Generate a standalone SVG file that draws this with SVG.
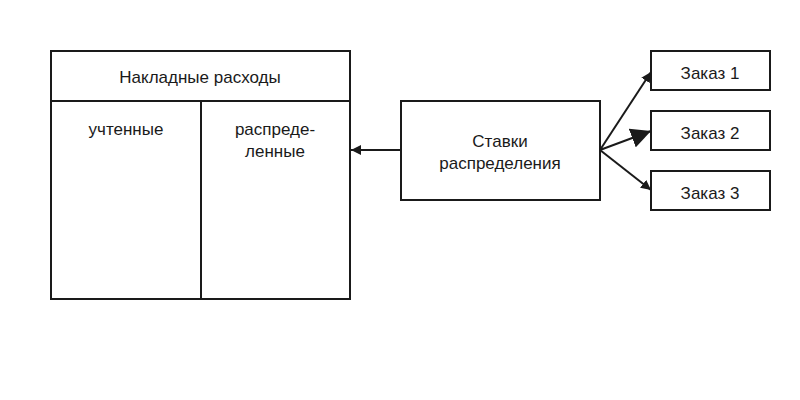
<svg xmlns="http://www.w3.org/2000/svg" width="800" height="400" viewBox="0 0 800 400">
<style>
.box{fill:#fff;stroke:#1a1a1a;stroke-width:2}
text{font-family:"Liberation Sans",Arial,sans-serif;font-size:17px;fill:#1a1a1a;text-anchor:middle}
.c{stroke:#1a1a1a;stroke-width:2;fill:none}
</style>
<defs>
<marker id="a" viewBox="0 0 10 10" refX="10" refY="5" markerWidth="5" markerHeight="5" orient="auto" markerUnits="strokeWidth"><path d="M0,0L10,5L0,10z" fill="#1a1a1a"/></marker>
<marker id="b" viewBox="0 0 10 10" refX="10" refY="5" markerWidth="10" markerHeight="10" orient="auto" markerUnits="strokeWidth"><path d="M0,0L10,5L0,10z" fill="#1a1a1a"/></marker>
</defs>
<rect width="800" height="400" fill="#fff"/>
<g id="overhead">
<rect class="box" x="51" y="51" width="299" height="248"/>
<line class="c" x1="51" y1="101" x2="350" y2="101"/>
<line class="c" x1="201" y1="101" x2="201" y2="299"/>
<text x="200" y="83">Накладные расходы</text>
<text x="126" y="135">учтенные</text>
<text x="275" y="135">распреде-</text>
<text x="275" y="157">ленные</text>
</g>
<g id="rates">
<rect class="box" x="401" y="101" width="199" height="99"/>
<text x="500" y="147">Ставки</text>
<text x="500" y="169">распределения</text>
</g>
<g id="order1"><rect class="box" x="651" y="51" width="119" height="39"/><text x="710" y="79">Заказ 1</text></g>
<g id="order2"><rect class="box" x="651" y="111" width="119" height="39"/><text x="710" y="139">Заказ 2</text></g>
<g id="order3"><rect class="box" x="651" y="171" width="119" height="39"/><text x="710" y="199">Заказ 3</text></g>
<g id="connectors">
<line class="c" x1="400" y1="150" x2="351" y2="150" marker-end="url(#a)"/>
<line class="c" x1="600" y1="150" x2="651" y2="72" marker-end="url(#a)"/>
<line class="c" x1="600" y1="150" x2="651" y2="131" stroke-width="1" marker-end="url(#b)"/>
<line class="c" x1="600" y1="150" x2="651" y2="190" marker-end="url(#a)"/>
</g>
</svg>
